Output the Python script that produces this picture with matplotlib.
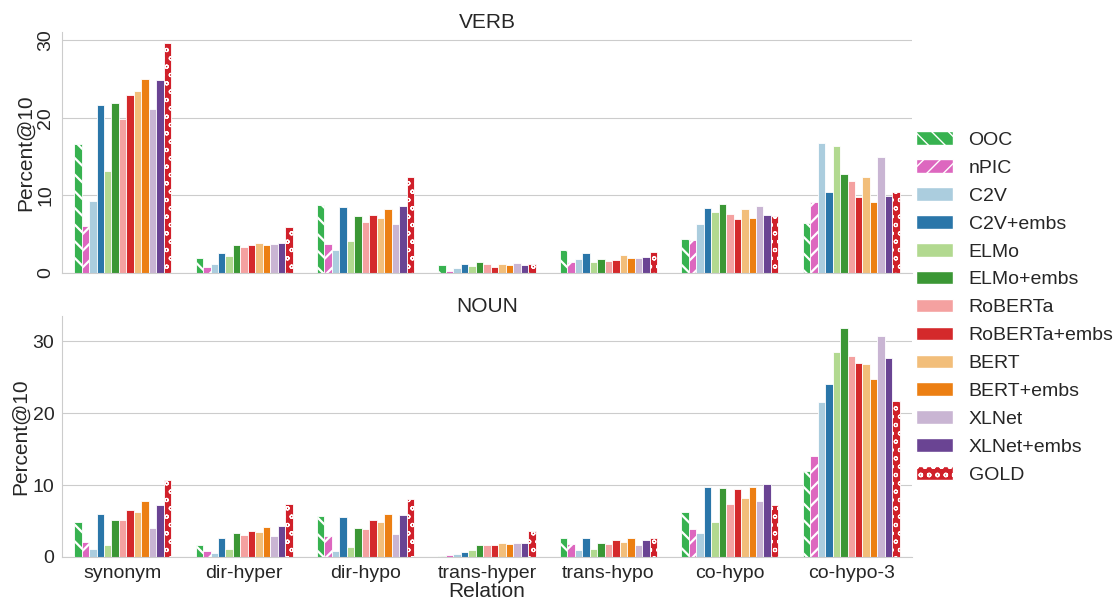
import numpy as np
import matplotlib
matplotlib.use("Agg")
import matplotlib.pyplot as plt
import seaborn as sns
from matplotlib.patches import Patch

relations = ["synonym", "dir-hyper", "dir-hypo", "trans-hyper", "trans-hypo", "co-hypo", "co-hypo-3"]
models = ["OOC", "nPIC", "C2V", "C2V+embs", "ELMo", "ELMo+embs", "RoBERTa",
          "RoBERTa+embs", "BERT", "BERT+embs", "XLNet", "XLNet+embs", "GOLD"]

# Percent@10 per model, one value per relation
verb = {
    "OOC":          [16.6, 1.9, 8.8, 1.0, 3.0, 4.4, 6.4],
    "nPIC":         [6.1, 0.7, 3.7, 0.2, 1.4, 4.2, 9.2],
    "C2V":          [9.3, 1.2, 2.9, 0.6, 1.8, 6.3, 16.8],
    "C2V+embs":     [21.7, 2.6, 8.5, 1.1, 2.6, 8.4, 10.4],
    "ELMo":         [13.2, 2.2, 4.1, 0.9, 1.4, 7.9, 16.4],
    "ELMo+embs":    [21.9, 3.6, 7.3, 1.4, 1.8, 8.9, 12.7],
    "RoBERTa":      [19.9, 3.3, 6.6, 1.1, 1.5, 7.6, 11.9],
    "RoBERTa+embs": [22.9, 3.6, 7.5, 0.8, 1.6, 6.9, 9.8],
    "BERT":         [23.4, 3.8, 7.1, 1.2, 2.3, 8.2, 12.3],
    "BERT+embs":    [25.0, 3.6, 8.2, 1.0, 1.9, 7.1, 9.1],
    "XLNet":        [21.2, 3.7, 6.3, 1.3, 1.9, 8.6, 14.9],
    "XLNet+embs":   [24.9, 3.9, 8.6, 1.0, 2.0, 7.5, 9.9],
    "GOLD":         [29.6, 5.9, 12.4, 1.2, 2.7, 7.3, 10.4],
}
noun = {
    "OOC":          [4.9, 1.6, 5.7, 0.15, 2.7, 6.3, 11.9],
    "nPIC":         [2.1, 0.9, 2.9, 0.25, 1.8, 3.9, 14.0],
    "C2V":          [1.1, 0.5, 0.9, 0.35, 1.0, 3.3, 21.6],
    "C2V+embs":     [6.0, 2.7, 5.6, 0.7, 2.7, 9.7, 24.0],
    "ELMo":         [1.7, 1.1, 1.4, 1.0, 1.1, 4.8, 28.5],
    "ELMo+embs":    [5.2, 3.4, 4.1, 1.6, 2.0, 9.6, 31.9],
    "RoBERTa":      [5.2, 3.1, 3.9, 1.6, 1.8, 7.4, 28.0],
    "RoBERTa+embs": [6.6, 3.6, 5.2, 1.6, 2.3, 9.5, 27.0],
    "BERT":         [6.2, 3.5, 4.8, 1.9, 2.1, 8.2, 26.8],
    "BERT+embs":    [7.8, 4.2, 6.0, 1.8, 2.6, 9.7, 24.8],
    "XLNet":        [4.0, 2.9, 3.2, 1.95, 1.7, 7.8, 30.8],
    "XLNet+embs":   [7.2, 4.3, 5.9, 1.9, 2.4, 10.2, 27.7],
    "GOLD":         [10.7, 7.4, 8.1, 3.6, 2.6, 7.2, 21.7],
}

sns.set_style("whitegrid")
plt.rcParams["font.family"] = ["Liberation Sans", "DejaVu Sans"]
plt.rcParams["hatch.color"] = "white"

paired = sns.color_palette("Paired", 10)
base = ["#2cbd4a", "#e85cc4"] + list(paired) + ["#e0101c"]
colors = [sns.desaturate(c, 0.85) for c in base]
hatches = {"OOC": "\\\\", "nPIC": "//", "GOLD": "oo"}
hatch_lw = {"OOC": 1.6, "nPIC": 1.6, "GOLD": 0.8}

fig, axes = plt.subplots(2, 1, figsize=(11.19, 6.03), dpi=100, sharex=True)
fig.subplots_adjust(left=0.0554, right=0.815, bottom=0.0763, top=0.947, hspace=0.18)

x = np.arange(len(relations))
n = len(models)
w = 0.8 / n
for ax, data, title in [(axes[0], verb, "VERB"), (axes[1], noun, "NOUN")]:
    for i, m in enumerate(models):
        with plt.rc_context({"hatch.linewidth": hatch_lw.get(m, 1.0)}):
            ax.bar(x - 0.4 + w * (i + 0.5), data[m], width=w, color=colors[i],
                   edgecolor="white", linewidth=0.6, hatch=hatches.get(m))
    ax.set_title(title, fontsize=15, pad=3)
    ax.set_ylabel("Percent@10", fontsize=15, labelpad=2)
    ax.set_yticks([0, 10, 20, 30])
    ax.tick_params(axis="both", labelsize=14, pad=2)
    ax.grid(axis="x", visible=False)
    ax.set_xlim(-0.5, len(relations) - 0.5)
    sns.despine(ax=ax)

axes[0].tick_params(axis="y", labelrotation=90)
for lbl in axes[0].get_yticklabels():
    lbl.set_va("center")
axes[1].set_xticks(x)
axes[1].set_xticklabels(relations)
axes[1].set_xlabel("Relation", fontsize=15, labelpad=0)

handles = []
for i, m in enumerate(models):
    with plt.rc_context({"hatch.linewidth": hatch_lw.get(m, 1.0)}):
        handles.append(Patch(facecolor=colors[i], edgecolor="white",
                             hatch=hatches.get(m), label=m))
fig.legend(handles=handles, loc="center left", bbox_to_anchor=(0.803, 0.49),
           frameon=False, fontsize=14, labelspacing=0.53, handlelength=1.9,
           handletextpad=0.8)

fig.savefig("out.png", dpi=100)
